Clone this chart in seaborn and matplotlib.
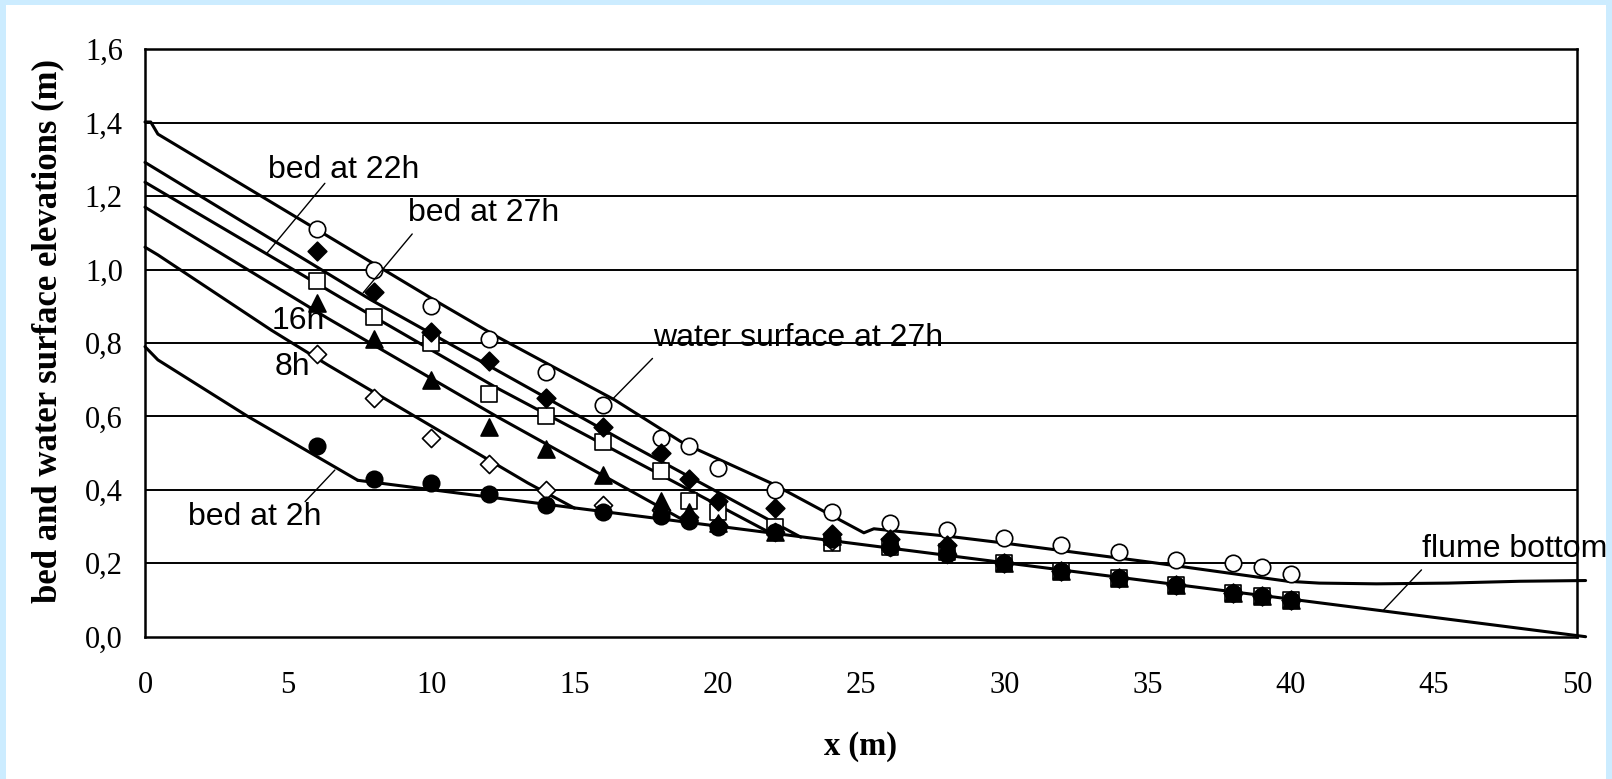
import matplotlib
matplotlib.use("Agg")
import matplotlib.pyplot as plt
from matplotlib.patches import Rectangle
from matplotlib.ticker import FuncFormatter
import seaborn as sns

# --- measured points (x in m, elevation in m) ---
x_obs = [6, 8, 10, 12, 14, 16, 18, 19, 20, 22, 24, 26, 28, 30, 32, 34, 36, 38, 39, 40]
ws27_obs = [1.11, 1.00, 0.90, 0.81, 0.72, 0.63, 0.54, 0.52, 0.46, 0.40, 0.34, 0.31, 0.29, 0.27, 0.25, 0.23, 0.21, 0.20, 0.19, 0.17]
bed27_obs = [1.05, 0.94, 0.83, 0.75, 0.65, 0.57, 0.50, 0.43, 0.37, 0.35, 0.28, 0.265, 0.25, 0.20, 0.18, 0.16, 0.14, 0.12, 0.11, 0.10]
bed22_obs = [0.97, 0.87, 0.80, 0.66, 0.60, 0.53, 0.45, 0.37, 0.34, 0.30, 0.255, 0.245, 0.23, 0.20, 0.18, 0.16, 0.14, 0.12, 0.11, 0.10]
bed16_obs = [0.91, 0.81, 0.70, 0.57, 0.51, 0.44, 0.37, 0.34, 0.31, 0.285, 0.275, 0.26, 0.245, 0.20, 0.18, 0.16, 0.14, 0.12, 0.11, 0.10]
bed8_obs = [0.77, 0.65, 0.54, 0.47, 0.40, 0.36, 0.345, 0.325, 0.305, 0.285, 0.26, 0.245, 0.225, 0.20, 0.18, 0.16, 0.14, 0.12, 0.11, 0.10]
bed2_obs = [0.52, 0.43, 0.42, 0.39, 0.36, 0.34, 0.33, 0.315, 0.30, 0.285, 0.265, 0.245, 0.225, 0.20, 0.18, 0.16, 0.14, 0.12, 0.11, 0.10]

# --- computed profiles ---
ws27_x = [0, 0.2, 0.45, 10.1, 12.3, 16.4, 18.8, 21.9, 25.1, 25.45, 26.3, 28.0, 29.9, 34.9, 39.9, 41.0, 43.0, 45.5, 48.0, 50.3]
ws27_y = [1.402, 1.402, 1.369, 0.917, 0.817, 0.645, 0.527, 0.417, 0.283, 0.294, 0.287, 0.274, 0.256, 0.205, 0.151, 0.146, 0.144, 0.146, 0.151, 0.153]
bed27_x = [0, 7.9, 16.85, 22.9]
bed27_y = [1.292, 0.917, 0.527, 0.271]
bed22_x = [0, 6.98, 12.3, 21.85]
bed22_y = [1.238, 0.917, 0.677, 0.282]
bed16_x = [0, 6.385, 12.3, 18.95]
bed16_y = [1.170, 0.867, 0.599, 0.311]
bed8_x = [0, 0.45, 4.41, 6.385, 13.36, 15.0]
bed8_y = [1.061, 1.040, 0.835, 0.740, 0.419, 0.350]
bed2_x = [0, 0.45, 3.59, 7.43]
bed2_y = [0.790, 0.754, 0.600, 0.426]
bottom_x = [7.43, 50.3]
bottom_y = [0.426, 0.0]

x_ticks = [0, 5, 10, 15, 20, 25, 30, 35, 40, 45, 50]
y_ticks = [0.0, 0.2, 0.4, 0.6, 0.8, 1.0, 1.2, 1.4, 1.6]

# labels: (text, x, y baseline)
labels = [
    ("bed at 22h", 4.31, 1.249),
    ("bed at 27h", 9.19, 1.133),
    ("16h", 4.42, 0.838),
    ("8h", 4.54, 0.713),
    ("bed at 2h", 1.51, 0.304),
    ("water surface at 27h", 17.75, 0.792),
    ("flume bottom", 44.58, 0.218),
]
# leader lines: (start, end)
leaders = [
    ((6.28, 1.235), (4.25, 1.044)),
    ((9.33, 1.097), (7.62, 0.937)),
    ((5.59, 0.368), (6.63, 0.454)),
    ((17.72, 0.758), (16.35, 0.649)),
    ((44.57, 0.182), (43.25, 0.073)),
]

sns.set_style("white")
serif = ["Liberation Serif", "DejaVu Serif"]
sans = ["Liberation Sans", "DejaVu Sans"]
plt.rcParams["font.family"] = serif
plt.rcParams["text.color"] = "black"
plt.rcParams["axes.labelcolor"] = "black"

fig = plt.figure(figsize=(16.12, 7.79), dpi=100)
fig.patch.set_facecolor("#ccecff")
# white panel (light blue margin on left, top and right)
fig.patches.append(Rectangle((6 / 1612, 0), 1 - 12 / 1612, 1 - 5 / 779,
                             transform=fig.transFigure, facecolor="white",
                             edgecolor="none", zorder=-10))
ax = fig.add_axes([145 / 1612, 1 - 636.7 / 779, 1432 / 1612, 587.4 / 779])
ax.set_facecolor("white")

# gridlines
for yv in y_ticks[1:-1]:
    ax.axhline(yv, color="black", lw=1.4, zorder=1)

# simulated profiles
profiles = [(ws27_x, ws27_y), (bed27_x, bed27_y), (bed22_x, bed22_y),
            (bed16_x, bed16_y), (bed8_x, bed8_y), (bed2_x, bed2_y),
            (bottom_x, bottom_y)]
for px, py in profiles:
    sns.lineplot(x=px, y=py, color="black", lw=2.2, sort=False,
                 estimator=None, ax=ax, zorder=2)
    ax.get_lines()[-1].set_clip_on(False)

# measured points
points = [
    (ws27_obs, "o", "white", 140),
    (bed22_obs, "s", "white", 140),
    (bed8_obs, "D", "white", 85),
    (bed2_obs, "o", "black", 140),
    (bed16_obs, "^", "black", 150),
    (bed27_obs, "D", "black", 90),
]
for vals, mk, fc, size in points:
    sns.scatterplot(x=x_obs, y=vals, marker=mk, color=fc, edgecolor="black",
                    linewidth=1.2, s=size, ax=ax, zorder=3)

for txt, tx, ty in labels:
    ax.text(tx, ty, txt, fontsize=23, family=sans, color="black",
            ha="left", va="baseline", zorder=1.5)
for (x0, y0), (x1, y1) in leaders:
    ax.annotate("", xy=(x1, y1), xytext=(x0, y0),
                arrowprops=dict(arrowstyle="-", lw=1.0, color="black",
                                shrinkA=0, shrinkB=0))

ax.set_xlim(0, 50)
ax.set_ylim(0, 1.6)
ax.set_xticks(x_ticks)
ax.set_yticks(y_ticks)
ax.yaxis.set_major_formatter(FuncFormatter(lambda v, _: f"{v:.1f}".replace(".", ",")))
ax.tick_params(axis="both", direction="out", length=8, width=1, color="#606060",
               labelsize=22, labelcolor="black")
ax.tick_params(axis="x", pad=17)
ax.tick_params(axis="y", pad=8)
for side in ["left", "right", "top", "bottom"]:
    ax.spines[side].set_visible(True)
    ax.spines[side].set_color("black")
    ax.spines[side].set_linewidth(1.8)

ax.set_xlabel("x (m)", fontsize=23.5, fontweight="bold", color="black")
ax.set_ylabel("bed and water surface elevations (m)", fontsize=25,
              fontweight="bold", color="black")
ax.xaxis.set_label_coords(0.5, -0.16)
ax.yaxis.set_label_coords(-0.056, 0.52)

fig.savefig("out.png", dpi=100)
